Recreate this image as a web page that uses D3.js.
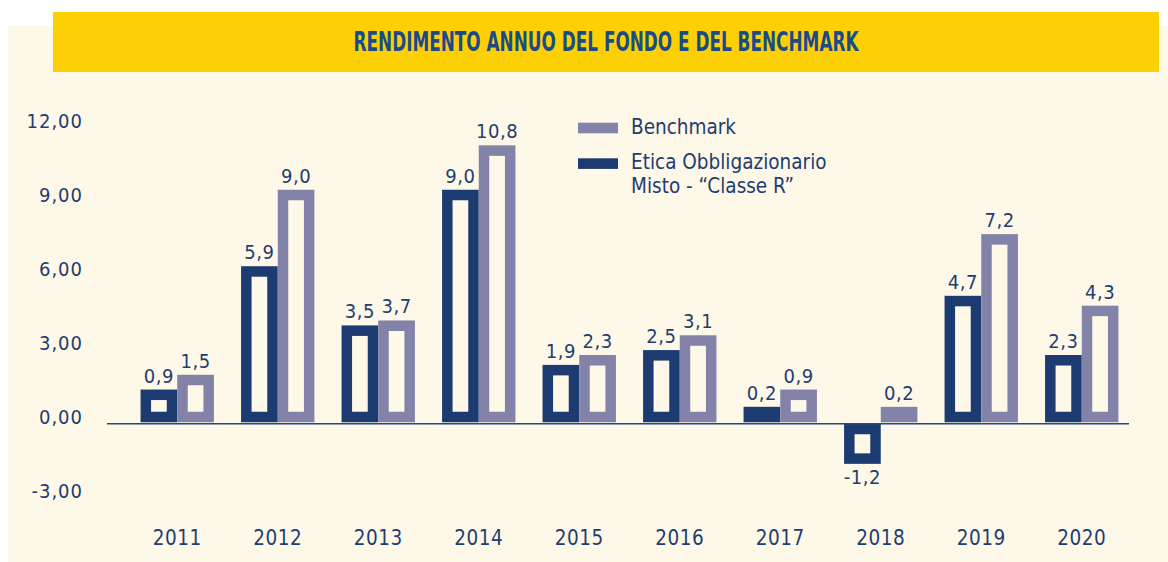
<!doctype html>
<html lang="it">
<head>
    <meta charset="utf-8" />
    <title>Rendimento annuo del fondo e del benchmark</title>
    <style>
        body { margin: 0; background: #ffffff; }
        svg { display: block; font-family: "Liberation Sans Narrow", "DejaVu Sans Condensed", "Liberation Sans", sans-serif; }
    </style>
</head>
<body>
    <svg id="chart"></svg>

    <script src="https://cdn.jsdelivr.net/npm/d3@7"></script>

    <script>
        // data
        const years = ["2011", "2012", "2013", "2014", "2015", "2016", "2017", "2018", "2019", "2020"];
        const fondo = [0.9, 5.9, 3.5, 9.0, 1.9, 2.5, 0.2, -1.2, 4.7, 2.3];
        const benchmark = [1.5, 9.0, 3.7, 10.8, 2.3, 3.1, 0.9, 0.2, 7.2, 4.3];
        const yTicks = [-3, 0, 3, 6, 9, 12];
        const title = "RENDIMENTO ANNUO DEL FONDO E DEL BENCHMARK";
        const legendBenchmark = ["Benchmark"];
        const legendFondo = ["Etica Obbligazionario", "Misto - \u201cClasse R\u201d"];

        renderChart("#chart");

        function renderChart(container) {
            const width = 1168, height = 562;
            const textColor = "#1f3d70";
            const colors = { fondo: "#1b3b71", benchmark: "#8383a9" };
            const strokeW = 10.5;

            const locale = d3.formatLocale({ decimal: ",", thousands: ".", grouping: [3], currency: ["", "\u00a0€"], minus: "-" });
            const fmtAxis = locale.format(".2f");
            const fmtVal = locale.format(".1f");

            const svg = d3.select(container)
                .attr("width", width)
                .attr("height", height)
                .attr("viewBox", [0, 0, width, height]);

            // background panels
            svg.append("rect")
                .attr("x", 8).attr("y", 26)
                .attr("width", width - 8).attr("height", height - 26)
                .attr("fill", "#fef8e8");

            svg.append("rect")
                .attr("x", 53).attr("y", 12)
                .attr("width", 1106).attr("height", 60)
                .attr("fill", "#fdd005");

            svg.append("text")
                .attr("x", 606).attr("y", 51)
                .attr("text-anchor", "middle")
                .attr("font-size", 27)
                .attr("font-weight", "bold")
                .attr("fill", "#1b4a8a")
                .attr("textLength", 505)
                .attr("lengthAdjust", "spacingAndGlyphs")
                .text(title);

            const y = d3.scaleLinear().domain([-3, 12]).range([491, 121]);
            const x = d3.scaleBand().domain(years).range([127, 1132]).paddingInner(0.27).paddingOuter(0.135);
            const sub = d3.scaleBand().domain(["fondo", "benchmark"]).range([0, x.bandwidth()]);

            const rows = years.map((yr, i) => ({ year: yr, fondo: fondo[i], benchmark: benchmark[i] }));
            const baseY = y(0) + strokeW / 2 + 1.5;

            // y axis
            const axis = svg.append("g")
                .attr("transform", "translate(83,0)")
                .call(d3.axisLeft(y).tickValues(yTicks).tickSize(0).tickPadding(0).tickFormat(fmtAxis));
            axis.select(".domain").remove();
            axis.attr("font-family", null).attr("font-size", 20);
            axis.selectAll("text").attr("fill", textColor).attr("letter-spacing", 1);

            // bars
            const group = svg.append("g")
                .selectAll("g")
                .data(rows)
                .join("g")
                .attr("transform", d => `translate(${x(d.year)},0)`);

            ["fondo", "benchmark"].forEach(key => {
                group.append("rect")
                    .attr("x", sub(key) + strokeW / 2)
                    .attr("width", sub.bandwidth() - strokeW)
                    .attr("y", d => d[key] >= 0 ? y(d[key]) : y(0) + strokeW + 1.5)
                    .attr("height", d => Math.abs(y(d[key]) - y(0)))
                    .attr("fill", "none")
                    .attr("stroke", colors[key])
                    .attr("stroke-width", strokeW);

                group.append("text")
                    .attr("x", sub(key) + sub.bandwidth() / 2)
                    .attr("y", d => d[key] >= 0
                        ? y(d[key]) - strokeW / 2 - 7
                        : y(d[key]) + strokeW * 1.5 + 1.5 + 20)
                    .attr("text-anchor", "middle")
                    .attr("font-size", 20)
                    .attr("letter-spacing", 0.5)
                    .attr("fill", textColor)
                    .text(d => fmtVal(d[key]));
            });

            // zero line
            svg.append("line")
                .attr("x1", 107).attr("x2", 1129)
                .attr("y1", baseY).attr("y2", baseY)
                .attr("stroke", "#1f4a85")
                .attr("stroke-width", 1.5);

            // year labels
            svg.append("g")
                .selectAll("text")
                .data(years)
                .join("text")
                .attr("x", d => x(d) + x.bandwidth() / 2)
                .attr("y", 545)
                .attr("text-anchor", "middle")
                .attr("font-size", 20.5)
                .attr("letter-spacing", 0.5)
                .attr("fill", textColor)
                .text(d => d);

            // legend
            const legend = svg.append("g").attr("transform", "translate(578,0)");
            const items = [
                { key: "benchmark", lines: legendBenchmark, top: 122.7 },
                { key: "fondo", lines: legendFondo, top: 158.3 }
            ];
            items.forEach(it => {
                legend.append("rect")
                    .attr("x", 0).attr("y", it.top)
                    .attr("width", 40).attr("height", 10.6)
                    .attr("fill", colors[it.key]);
                legend.append("text")
                    .attr("x", 53)
                    .attr("y", it.top + 11)
                    .attr("font-size", 20.5)
                    .attr("fill", textColor)
                    .selectAll("tspan")
                    .data(it.lines)
                    .join("tspan")
                    .attr("x", 53)
                    .attr("dy", (d, i) => i === 0 ? 0 : 24)
                    .text(d => d);
            });
        }
    </script>
</body>
</html>
